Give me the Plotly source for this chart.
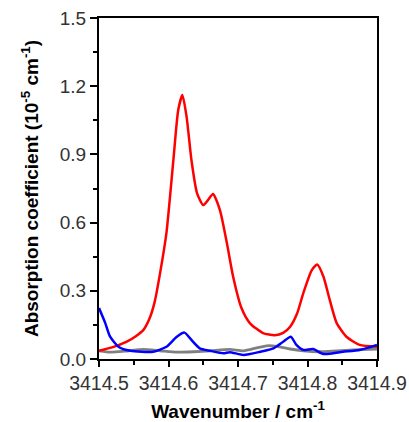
import plotly.graph_objects as go

red_x = [3414.500, 3414.520, 3414.540, 3414.553, 3414.564, 3414.573, 3414.580, 3414.588, 3414.597,
         3414.607, 3414.614, 3414.620, 3414.626, 3414.633, 3414.641, 3414.650, 3414.657, 3414.664,
         3414.674, 3414.684, 3414.693, 3414.705, 3414.717, 3414.736, 3414.753, 3414.765, 3414.775,
         3414.785, 3414.794, 3414.806, 3414.814, 3414.823, 3414.832, 3414.842, 3414.856, 3414.875,
         3414.900]
red_y = [0.036, 0.052, 0.076, 0.100, 0.128, 0.180, 0.250, 0.380, 0.554,
         0.875, 1.095, 1.161, 1.066, 0.875, 0.730, 0.677, 0.700, 0.726,
         0.655, 0.510, 0.362, 0.224, 0.158, 0.114, 0.105, 0.115, 0.142,
         0.200, 0.290, 0.390, 0.416, 0.362, 0.260, 0.158, 0.098, 0.062,
         0.054]

blue_x = [3414.500, 3414.509, 3414.516, 3414.528, 3414.545, 3414.578, 3414.597, 3414.612, 3414.623,
          3414.633, 3414.645, 3414.660, 3414.679, 3414.688, 3414.708, 3414.732, 3414.751, 3414.765,
          3414.776, 3414.784, 3414.794, 3414.808, 3414.823, 3414.851, 3414.875, 3414.900]
blue_y = [0.224, 0.158, 0.098, 0.054, 0.036, 0.032, 0.054, 0.098, 0.116,
          0.084, 0.047, 0.036, 0.025, 0.030, 0.018, 0.032, 0.047, 0.076,
          0.098, 0.062, 0.040, 0.044, 0.022, 0.032, 0.040, 0.062]

gray_x = [3414.500, 3414.516, 3414.540, 3414.564, 3414.588, 3414.612, 3414.636, 3414.660, 3414.688,
          3414.708, 3414.727, 3414.741, 3414.756, 3414.775, 3414.794, 3414.818, 3414.842, 3414.866, 3414.900]
gray_y = [0.036, 0.030, 0.035, 0.042, 0.036, 0.030, 0.032, 0.036, 0.042,
          0.036, 0.049, 0.058, 0.056, 0.044, 0.036, 0.032, 0.036, 0.040, 0.044]

x_ticks = [3414.5, 3414.6, 3414.7, 3414.8, 3414.9]
x_tick_labels = ["3414.5", "3414.6", "3414.7", "3414.8", "3414.9"]
y_ticks = [0.0, 0.3, 0.6, 0.9, 1.2, 1.5]
y_tick_labels = ["0.0", "0.3", "0.6", "0.9", "1.2", "1.5"]

fig = go.Figure()
fig.add_trace(go.Scatter(x=gray_x, y=gray_y, mode="lines", line=dict(color="#808080", width=2.8, shape="spline", smoothing=0.6)))
fig.add_trace(go.Scatter(x=red_x, y=red_y, mode="lines", line=dict(color="#ff0000", width=2.5, shape="spline", smoothing=0.6)))
fig.add_trace(go.Scatter(x=blue_x, y=blue_y, mode="lines", line=dict(color="#0000ff", width=2.5, shape="spline", smoothing=0.6)))

font = "Liberation Sans, Arial, sans-serif"
fig.update_layout(
    width=409, height=422,
    margin=dict(l=99, r=32, t=18, b=63),
    paper_bgcolor="white", plot_bgcolor="white",
    showlegend=False,
    font=dict(family=font, color="#333333", size=19),
    xaxis=dict(
        range=[3414.5, 3414.9], tickmode="array", tickvals=x_ticks, ticktext=x_tick_labels,
        tickangle=0, ticks="outside", ticklen=6, tickwidth=2, tickcolor="black",
        minor=dict(dtick=0.05, ticks="outside", ticklen=4, tickwidth=2, tickcolor="black"),
        showline=True, linecolor="black", linewidth=2, mirror=True, showgrid=False, zeroline=False,
        tickfont=dict(size=19.5, color="#333333"), automargin=False,
        title=dict(text="<b>Wavenumber / cm<sup>-1</sup></b>", font=dict(size=19, color="black"), standoff=14),
    ),
    yaxis=dict(
        range=[0, 1.5], tickmode="array", tickvals=y_ticks, ticktext=y_tick_labels,
        ticks="outside", ticklen=7, tickwidth=2, tickcolor="black",
        minor=dict(dtick=0.15, ticks="outside", ticklen=4, tickwidth=2, tickcolor="black"),
        showline=True, linecolor="black", linewidth=2, mirror=True, showgrid=False, zeroline=False,
        tickfont=dict(size=19, color="#333333"), automargin=False,
        title=dict(text="<b>Absorption coefficient (10<sup>-5</sup> cm<sup>-1</sup>)</b>", font=dict(size=19, color="black"), standoff=16),
    ),
)
fig.write_html("out.html", config={"displayModeBar": False},
               post_script="document.body.style.margin='0';document.body.style.overflow='hidden';")
